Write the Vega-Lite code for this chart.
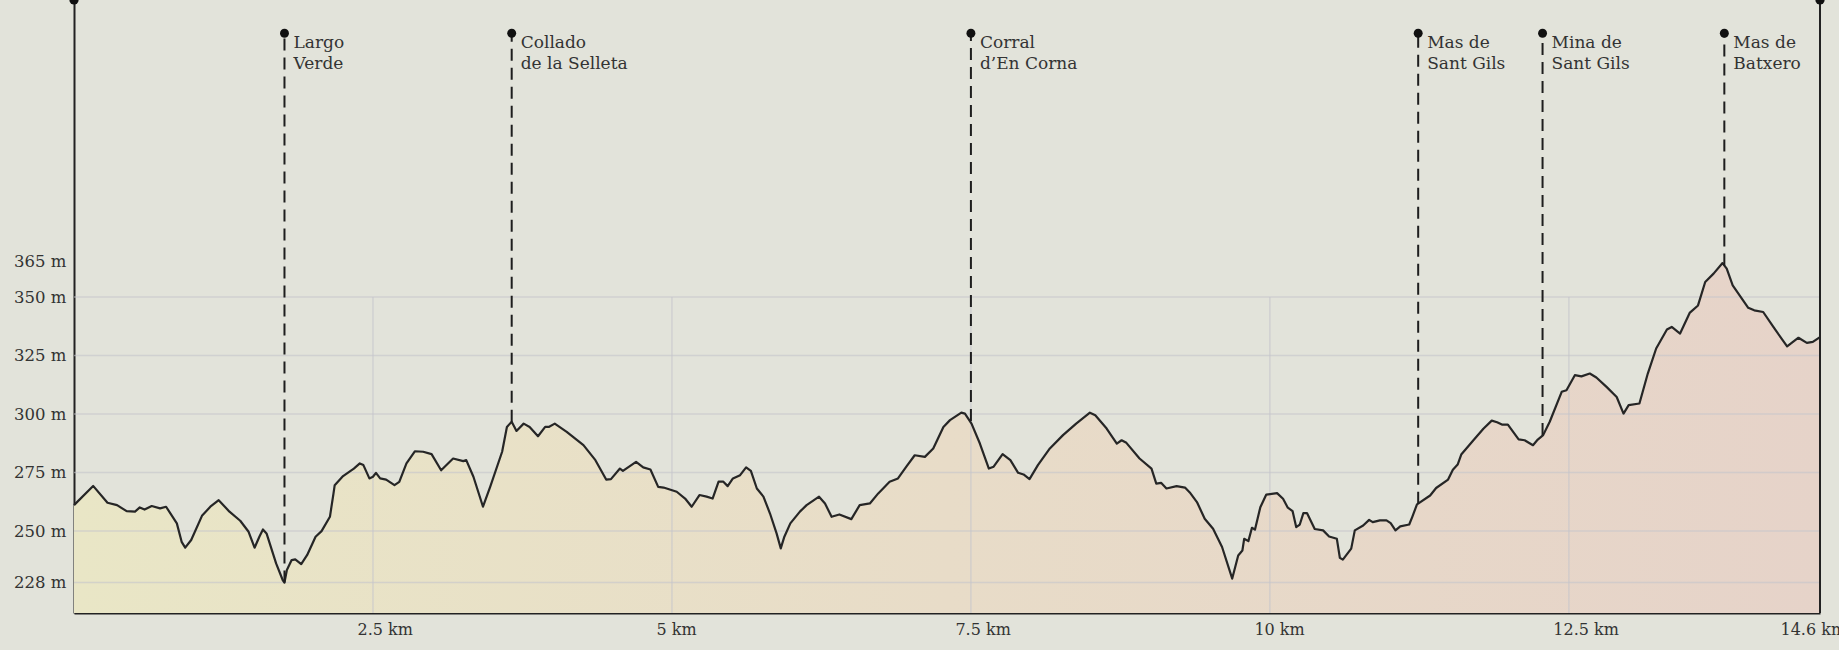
{
  "$schema": "https://vega.github.io/schema/vega-lite/v6.json",
  "width": 1746,
  "height": 613,
  "autosize": {"type": "none"},
  "padding": {"left": 74, "top": 0, "right": 19, "bottom": 37},
  "background": "#e2e3da",
  "config": {"view": {"stroke": null}, "font": "DejaVu Serif"},
  "datasets": {
    "profile": [
      {"km": 0, "elev": 261.1}, {"km": 0.16, "elev": 269.3}, {"km": 0.28, "elev": 262.1}, {"km": 0.36, "elev": 261.1},
      {"km": 0.44, "elev": 258.5}, {"km": 0.51, "elev": 258.3}, {"km": 0.55, "elev": 260.1}, {"km": 0.59, "elev": 259.2},
      {"km": 0.65, "elev": 260.7}, {"km": 0.72, "elev": 259.7}, {"km": 0.77, "elev": 260.4}, {"km": 0.86, "elev": 253.3},
      {"km": 0.9, "elev": 245.4}, {"km": 0.93, "elev": 242.9}, {"km": 0.98, "elev": 246.2}, {"km": 1.07, "elev": 256.5},
      {"km": 1.14, "elev": 260.4}, {"km": 1.21, "elev": 263.2}, {"km": 1.3, "elev": 258.3}, {"km": 1.39, "elev": 254.4},
      {"km": 1.46, "elev": 249.7}, {"km": 1.51, "elev": 242.9}, {"km": 1.55, "elev": 247.6}, {"km": 1.58, "elev": 250.7},
      {"km": 1.61, "elev": 249}, {"km": 1.69, "elev": 236.2}, {"km": 1.745, "elev": 229.1}, {"km": 1.76, "elev": 228},
      {"km": 1.78, "elev": 233.4}, {"km": 1.82, "elev": 237.6}, {"km": 1.85, "elev": 237.9}, {"km": 1.9, "elev": 235.9},
      {"km": 1.95, "elev": 239.8}, {"km": 2.02, "elev": 247.6}, {"km": 2.07, "elev": 250}, {"km": 2.14, "elev": 256.1},
      {"km": 2.17, "elev": 266.1}, {"km": 2.18, "elev": 269.6}, {"km": 2.25, "elev": 273.5}, {"km": 2.34, "elev": 276.7},
      {"km": 2.39, "elev": 278.9}, {"km": 2.42, "elev": 278.2}, {"km": 2.47, "elev": 272.5}, {"km": 2.5, "elev": 273.2},
      {"km": 2.525, "elev": 274.9}, {"km": 2.56, "elev": 272.5}, {"km": 2.61, "elev": 272}, {"km": 2.68, "elev": 269.6},
      {"km": 2.72, "elev": 271}, {"km": 2.78, "elev": 278.9}, {"km": 2.85, "elev": 284.1}, {"km": 2.92, "elev": 283.9},
      {"km": 2.99, "elev": 282.9}, {"km": 3.07, "elev": 276}, {"km": 3.17, "elev": 281}, {"km": 3.255, "elev": 279.9},
      {"km": 3.28, "elev": 280.3}, {"km": 3.34, "elev": 273.2}, {"km": 3.42, "elev": 260.4}, {"km": 3.48, "elev": 268.9},
      {"km": 3.58, "elev": 283.9}, {"km": 3.62, "elev": 294.5}, {"km": 3.66, "elev": 296.7}, {"km": 3.7, "elev": 292.8},
      {"km": 3.76, "elev": 295.9}, {"km": 3.81, "elev": 294.5}, {"km": 3.88, "elev": 290.5}, {"km": 3.94, "elev": 294.5},
      {"km": 3.97, "elev": 294.5}, {"km": 4.02, "elev": 295.9}, {"km": 4.12, "elev": 292.4}, {"km": 4.26, "elev": 286.7},
      {"km": 4.36, "elev": 280.3}, {"km": 4.45, "elev": 272}, {"km": 4.49, "elev": 272.2}, {"km": 4.565, "elev": 276.7},
      {"km": 4.59, "elev": 275.7}, {"km": 4.7, "elev": 279.6}, {"km": 4.76, "elev": 277.2}, {"km": 4.82, "elev": 276.3},
      {"km": 4.885, "elev": 268.9}, {"km": 4.93, "elev": 268.6}, {"km": 5.04, "elev": 266.8}, {"km": 5.11, "elev": 263.9},
      {"km": 5.165, "elev": 260.4}, {"km": 5.23, "elev": 265.4}, {"km": 5.29, "elev": 264.7}, {"km": 5.34, "elev": 263.9},
      {"km": 5.39, "elev": 271.1}, {"km": 5.43, "elev": 271.1}, {"km": 5.466, "elev": 269.2}, {"km": 5.51, "elev": 272.5},
      {"km": 5.57, "elev": 273.9}, {"km": 5.62, "elev": 277.2}, {"km": 5.66, "elev": 275.7}, {"km": 5.71, "elev": 268.2},
      {"km": 5.765, "elev": 264.7}, {"km": 5.82, "elev": 257.5}, {"km": 5.875, "elev": 249}, {"km": 5.91, "elev": 242.6},
      {"km": 5.94, "elev": 247.6}, {"km": 5.99, "elev": 253.3}, {"km": 6.07, "elev": 258.3}, {"km": 6.126, "elev": 261.1},
      {"km": 6.23, "elev": 264.7}, {"km": 6.28, "elev": 261.8}, {"km": 6.335, "elev": 256.1}, {"km": 6.4, "elev": 257.1},
      {"km": 6.5, "elev": 255.1}, {"km": 6.57, "elev": 261.1}, {"km": 6.655, "elev": 261.8}, {"km": 6.725, "elev": 266.1},
      {"km": 6.82, "elev": 271.1}, {"km": 6.89, "elev": 272.5}, {"km": 6.96, "elev": 277.5}, {"km": 7.03, "elev": 282.4},
      {"km": 7.115, "elev": 281.7}, {"km": 7.185, "elev": 285.3}, {"km": 7.27, "elev": 294.5}, {"km": 7.325, "elev": 297.4},
      {"km": 7.42, "elev": 300.6}, {"km": 7.45, "elev": 300.2}, {"km": 7.505, "elev": 295.9}, {"km": 7.575, "elev": 287.4},
      {"km": 7.65, "elev": 276.7}, {"km": 7.69, "elev": 277.5}, {"km": 7.765, "elev": 282.9}, {"km": 7.83, "elev": 280.3},
      {"km": 7.895, "elev": 274.9}, {"km": 7.94, "elev": 274.2}, {"km": 7.99, "elev": 272.2}, {"km": 8.06, "elev": 278.2},
      {"km": 8.16, "elev": 285.3}, {"km": 8.27, "elev": 291}, {"km": 8.38, "elev": 295.9}, {"km": 8.495, "elev": 300.6},
      {"km": 8.54, "elev": 299.5}, {"km": 8.635, "elev": 293.8}, {"km": 8.72, "elev": 287.4}, {"km": 8.76, "elev": 288.8},
      {"km": 8.8, "elev": 287.7}, {"km": 8.91, "elev": 281}, {"km": 9.01, "elev": 276.7}, {"km": 9.05, "elev": 270.3},
      {"km": 9.09, "elev": 270.6}, {"km": 9.135, "elev": 268.2}, {"km": 9.22, "elev": 269.2}, {"km": 9.29, "elev": 268.6},
      {"km": 9.33, "elev": 266.5}, {"km": 9.39, "elev": 262.4}, {"km": 9.455, "elev": 255.3}, {"km": 9.525, "elev": 251},
      {"km": 9.6, "elev": 243.2}, {"km": 9.685, "elev": 229.7}, {"km": 9.735, "elev": 239.6}, {"km": 9.77, "elev": 241.7},
      {"km": 9.785, "elev": 246.7}, {"km": 9.82, "elev": 245.7}, {"km": 9.85, "elev": 251.4}, {"km": 9.875, "elev": 250.6},
      {"km": 9.92, "elev": 260.2}, {"km": 9.97, "elev": 265.6}, {"km": 10.06, "elev": 266.2}, {"km": 10.11, "elev": 263.8},
      {"km": 10.15, "elev": 260}, {"km": 10.19, "elev": 258.5}, {"km": 10.22, "elev": 251.7}, {"km": 10.25, "elev": 252.8},
      {"km": 10.28, "elev": 257.7}, {"km": 10.31, "elev": 257.7}, {"km": 10.375, "elev": 250.9}, {"km": 10.445, "elev": 250.3},
      {"km": 10.495, "elev": 247.7}, {"km": 10.56, "elev": 246.7}, {"km": 10.585, "elev": 238.6}, {"km": 10.61, "elev": 237.8},
      {"km": 10.68, "elev": 242.5}, {"km": 10.71, "elev": 250.3}, {"km": 10.78, "elev": 252.4}, {"km": 10.83, "elev": 254.8},
      {"km": 10.86, "elev": 253.8}, {"km": 10.92, "elev": 254.6}, {"km": 10.975, "elev": 254.6}, {"km": 11.01, "elev": 253.4},
      {"km": 11.05, "elev": 250.3}, {"km": 11.09, "elev": 252}, {"km": 11.165, "elev": 252.8}, {"km": 11.19, "elev": 256},
      {"km": 11.23, "elev": 261.4}, {"km": 11.34, "elev": 265.2}, {"km": 11.39, "elev": 268.4}, {"km": 11.49, "elev": 272},
      {"km": 11.53, "elev": 276.2}, {"km": 11.57, "elev": 278.4}, {"km": 11.6, "elev": 282.7}, {"km": 11.7, "elev": 288.7},
      {"km": 11.785, "elev": 293.7}, {"km": 11.855, "elev": 297.2}, {"km": 11.9, "elev": 296.5}, {"km": 11.94, "elev": 295.5},
      {"km": 11.99, "elev": 295.5}, {"km": 12.08, "elev": 289.2}, {"km": 12.13, "elev": 288.8}, {"km": 12.2, "elev": 286.7},
      {"km": 12.24, "elev": 289.1}, {"km": 12.285, "elev": 291}, {"km": 12.34, "elev": 296.7}, {"km": 12.44, "elev": 309.5},
      {"km": 12.48, "elev": 310.2}, {"km": 12.55, "elev": 316.6}, {"km": 12.605, "elev": 316.1}, {"km": 12.675, "elev": 317.3},
      {"km": 12.73, "elev": 315.6}, {"km": 12.815, "elev": 311.6}, {"km": 12.9, "elev": 307.3}, {"km": 12.957, "elev": 300.2},
      {"km": 13.0, "elev": 303.8}, {"km": 13.09, "elev": 304.5}, {"km": 13.16, "elev": 317.3}, {"km": 13.23, "elev": 328},
      {"km": 13.32, "elev": 336.1}, {"km": 13.36, "elev": 337.2}, {"km": 13.43, "elev": 334.4}, {"km": 13.51, "elev": 343.2},
      {"km": 13.58, "elev": 346.4}, {"km": 13.64, "elev": 356.4}, {"km": 13.71, "elev": 360}, {"km": 13.785, "elev": 364.5},
      {"km": 13.82, "elev": 362.1}, {"km": 13.87, "elev": 355}, {"km": 14.0, "elev": 345.4}, {"km": 14.05, "elev": 344.3},
      {"km": 14.125, "elev": 343.6}, {"km": 14.21, "elev": 337.2}, {"km": 14.325, "elev": 328.9}, {"km": 14.42, "elev": 332.6},
      {"km": 14.49, "elev": 330.4}, {"km": 14.54, "elev": 330.8}, {"km": 14.6, "elev": 332.9}
    ],
    "markers": [
      {"km": 1.76, "elev": 228, "name": "Largo\nVerde"},
      {"km": 3.66, "elev": 296.7, "name": "Collado\nde la Selleta"},
      {"km": 7.5, "elev": 297, "name": "Corral\nd’En Corna"},
      {"km": 11.24, "elev": 261.7, "name": "Mas de\nSant Gils"},
      {"km": 12.28, "elev": 291, "name": "Mina de\nSant Gils"},
      {"km": 13.8, "elev": 363.5, "name": "Mas de\nBatxero"}
    ],
    "hgrid": [{"v": 228}, {"v": 250}, {"v": 275}, {"v": 300}, {"v": 325}, {"v": 350}],
    "vgrid": [{"v": 2.5}, {"v": 5}, {"v": 7.5}, {"v": 10}, {"v": 12.5}],
    "ends": [{"km": 0}, {"km": 14.6}]
  },
  "layer": [
    {
      "data": {"name": "profile"},
      "mark": {
        "type": "area",
        "color": {
          "gradient": "linear", "x1": 0, "y1": 0, "x2": 1, "y2": 0,
          "stops": [
            {"offset": 0, "color": "#e9e6c6"},
            {"offset": 0.5, "color": "#e8dcc8"},
            {"offset": 1, "color": "#e6d3c9"}
          ]
        }
      },
      "encoding": {
        "x": {
          "field": "km", "type": "quantitative", "title": null,
          "scale": {"domain": [0, 14.6], "nice": false, "zero": false},
          "axis": {
            "values": [2.5, 5, 7.5, 10, 12.5, 14.6],
            "labelExpr": "datum.value + ' km'",
            "grid": false, "ticks": false,
            "domainColor": "#222", "domainWidth": 2,
            "labelAlign": "left",
            "labelOffset": {"condition": {"test": "datum.value > 14", "value": -40}, "value": -16},
            "labelBaseline": "top", "labelPadding": 8,
            "labelFlush": false, "labelOverlap": false,
            "labelFont": "DejaVu Serif", "labelFontSize": 16, "labelColor": "#333"
          }
        },
        "y": {
          "field": "elev", "type": "quantitative", "title": null,
          "scale": {"domain": [215, 476.9], "nice": false, "zero": false},
          "axis": {
            "values": [228, 250, 275, 300, 325, 350, 365],
            "labelExpr": "datum.value + ' m'",
            "grid": false, "ticks": false,
            "domainColor": "#222", "domainWidth": 2,
            "labelPadding": 8, "labelOverlap": false, "labelFlush": false,
            "labelFont": "DejaVu Serif", "labelFontSize": 16.5, "labelColor": "#333"
          }
        },
        "y2": {"datum": 215}
      }
    },
    {
      "data": {"name": "hgrid"},
      "mark": {"type": "rule", "stroke": "#c5c5cc", "strokeWidth": 1.5, "opacity": 0.6},
      "encoding": {
        "y": {"field": "v", "type": "quantitative", "title": null},
        "x": {"datum": 0, "type": "quantitative"},
        "x2": {"datum": 14.6}
      }
    },
    {
      "data": {"name": "vgrid"},
      "mark": {"type": "rule", "stroke": "#c5c5cc", "strokeWidth": 1.5, "opacity": 0.6},
      "encoding": {
        "x": {"field": "v", "type": "quantitative", "title": null},
        "y": {"datum": 215, "type": "quantitative"},
        "y2": {"datum": 350}
      }
    },
    {
      "data": {"name": "profile"},
      "mark": {"type": "line", "stroke": "#262626", "strokeWidth": 2.2, "strokeJoin": "round"},
      "encoding": {
        "x": {"field": "km", "type": "quantitative", "title": null},
        "y": {"field": "elev", "type": "quantitative", "title": null}
      }
    },
    {
      "data": {"name": "markers"},
      "mark": {"type": "rule", "stroke": "#1e1e1e", "strokeWidth": 2, "strokeDash": [12, 7]},
      "encoding": {
        "x": {"field": "km", "type": "quantitative", "title": null},
        "y": {"field": "elev", "type": "quantitative", "title": null},
        "y2": {"datum": 462.7}
      }
    },
    {
      "data": {"name": "ends"},
      "transform": [{"filter": "datum.km > 14"}],
      "mark": {"type": "rule", "stroke": "#222", "strokeWidth": 2},
      "encoding": {
        "x": {"field": "km", "type": "quantitative", "title": null},
        "y": {"datum": 215, "type": "quantitative"},
        "y2": {"datum": 476.9}
      }
    },
    {
      "data": {"name": "ends"},
      "mark": {"type": "point", "filled": true, "size": 85, "color": "#111", "opacity": 1},
      "encoding": {
        "x": {"field": "km", "type": "quantitative", "title": null},
        "y": {"datum": 476.9, "type": "quantitative"}
      }
    },
    {
      "data": {"name": "markers"},
      "mark": {"type": "point", "filled": true, "size": 80, "color": "#111", "opacity": 1},
      "encoding": {
        "x": {"field": "km", "type": "quantitative", "title": null},
        "y": {"datum": 462.7, "type": "quantitative"}
      }
    },
    {
      "data": {"name": "markers"},
      "mark": {
        "type": "text", "align": "left", "baseline": "alphabetic",
        "dx": 9, "dy": 15, "lineBreak": "\n", "lineHeight": 21,
        "font": "DejaVu Serif", "fontSize": 17, "color": "#333"
      },
      "encoding": {
        "x": {"field": "km", "type": "quantitative", "title": null},
        "y": {"datum": 462.7, "type": "quantitative"},
        "text": {"field": "name"}
      }
    }
  ]
}
